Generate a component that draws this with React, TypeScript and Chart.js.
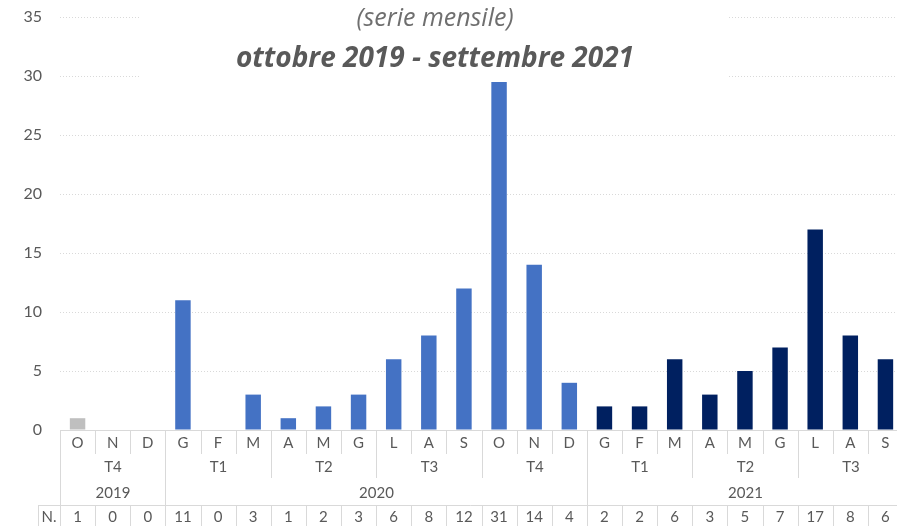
import React, { useEffect, useRef } from "react";
import { Chart, registerables } from "chart.js";

Chart.register(...registerables);

const months = ["O","N","D","G","F","M","A","M","G","L","A","S","O","N","D","G","F","M","A","M","G","L","A","S"];
const values = [1,0,0,11,0,3,1,2,3,6,8,12,31,14,4,2,2,6,3,5,7,17,8,6];
const years = ["2019","2019","2019","2020","2020","2020","2020","2020","2020","2020","2020","2020","2020","2020","2020","2021","2021","2021","2021","2021","2021","2021","2021","2021"];
const quarters = ["T4","T4","T4","T1","T1","T1","T2","T2","T2","T3","T3","T3","T4","T4","T4","T1","T1","T1","T2","T2","T2","T3","T3","T3"];
const yearColors: Record<string, string> = { "2019": "#BFBFBF", "2020": "#4472C4", "2021": "#002060" };
const rowLabel = "N.";
const subtitle = "(serie mensile)";
const titleText = "ottobre 2019 - settembre 2021";

const FONT = "Lato, 'Open Sans', sans-serif";
const TFONT = "'Open Sans', Lato, sans-serif";
const TEXT = "#595959";
const LINE = "#D9D9D9";

function groups(arr: string[]) {
  const out: { label: string; start: number; end: number }[] = [];
  arr.forEach((v, i) => {
    const last = out[out.length - 1];
    if (last && last.label === v && last.end === i - 1) last.end = i;
    else out.push({ label: v, start: i, end: i });
  });
  return out;
}

const tablePlugin = {
  id: "tablePlugin",
  afterDraw(chart: any) {
    const { ctx, chartArea } = chart;
    const x = chart.scales.x;
    const bottom = Math.round(chartArea.bottom);
    const step = x.getPixelForValue(1) - x.getPixelForValue(0);
    const bnd = (i: number) => Math.round(x.getPixelForValue(i) - step / 2) + 0.5;
    const H = chart.height;
    const rowTop = 505;
    ctx.save();
    ctx.strokeStyle = LINE;
    ctx.lineWidth = 1;
    const line = (x1: number, y1: number, x2: number, y2: number) => {
      ctx.beginPath(); ctx.moveTo(x1, y1); ctx.lineTo(x2, y2); ctx.stroke();
    };
    // baseline
    line(chartArea.left, bottom + 0.5, chartArea.right, bottom + 0.5);
    // month separators
    for (let i = 0; i <= months.length; i++) line(bnd(i), bottom, bnd(i), bottom + 24);
    const qg = groups(quarters.map((q, i) => q + years[i]));
    qg.forEach(g => { line(bnd(g.start), bottom, bnd(g.start), bottom + 48); line(bnd(g.end + 1), bottom, bnd(g.end + 1), bottom + 48); });
    const yg = groups(years);
    yg.forEach(g => { line(bnd(g.start), bottom, bnd(g.start), rowTop); line(bnd(g.end + 1), bottom, bnd(g.end + 1), rowTop); });
    // data row
    line(38.5, rowTop + 0.5, chartArea.right, rowTop + 0.5);
    line(38.5, rowTop, 38.5, H);
    for (let i = 0; i <= months.length; i++) line(bnd(i), rowTop, bnd(i), H);

    ctx.fillStyle = TEXT;
    ctx.textAlign = "center";
    ctx.textBaseline = "middle";
    ctx.font = `15px ${FONT}`;
    months.forEach((m, i) => ctx.fillText(m, x.getPixelForValue(i), bottom + 13));
    qg.forEach(g => ctx.fillText(quarters[g.start], (bnd(g.start) + bnd(g.end + 1)) / 2, bottom + 37));
    yg.forEach(g => ctx.fillText(g.label, (bnd(g.start) + bnd(g.end + 1)) / 2, bottom + 63));
    values.forEach((v, i) => ctx.fillText(String(v), x.getPixelForValue(i), rowTop + 12));
    ctx.fillText(rowLabel, 49, rowTop + 12);

    // title box over plot
    ctx.fillStyle = "#FFFFFF";
    ctx.fillRect(140, 0, 589, 82);
    ctx.fillStyle = "#6F6F6F";
    ctx.font = `italic 25px ${TFONT}`;
    ctx.fillText(subtitle, 435, 19);
    ctx.fillStyle = TEXT;
    ctx.font = `italic bold 28px ${TFONT}`;
    ctx.fillText(titleText, 435, 59);
    ctx.restore();
  },
};

export default function App() {
  const ref = useRef<HTMLCanvasElement | null>(null);
  useEffect(() => {
    if (!ref.current) return;
    const chart = new Chart(ref.current, {
      type: "bar",
      data: {
        labels: months,
        datasets: [{
          data: values,
          backgroundColor: years.map(y => yearColors[y]),
          categoryPercentage: 1,
          barPercentage: 0.44,
        }],
      },
      options: {
        animation: false,
        responsive: false,
        devicePixelRatio: 1,
        layout: { padding: { top: 17, bottom: 96, right: 2, left: 0 } },
        plugins: { legend: { display: false }, tooltip: { enabled: false }, title: { display: false } },
        scales: {
          x: { display: false, offset: true },
          y: {
            min: 0, max: 35,
            ticks: { stepSize: 5, color: TEXT, padding: 0, font: { family: FONT, size: 16 } },
            grid: { color: LINE, drawTicks: true, tickLength: 18, tickColor: "rgba(0,0,0,0)" },
            border: { display: false, dash: [1, 2] },
            afterFit: (s: any) => { s.width = 60; },
          },
        },
      },
      plugins: [tablePlugin],
    });
    return () => chart.destroy();
  }, []);
  return (
    <div style={{ position: "fixed", left: 0, top: 0, width: 897, height: 526, overflow: "hidden", background: "#fff" }}>
      <canvas ref={ref} width={905} height={526} style={{ display: "block" }} />
    </div>
  );
}
